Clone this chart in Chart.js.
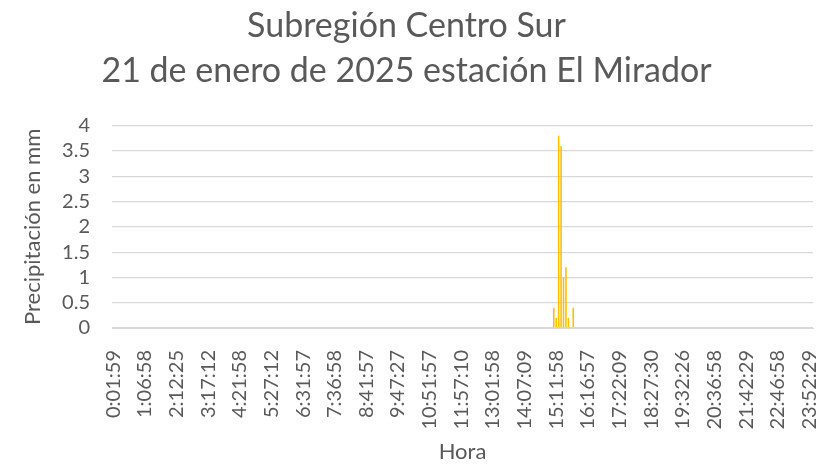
<!DOCTYPE html>
<html>
<head>
<meta charset="utf-8">
<script src="https://cdn.jsdelivr.net/npm/chart.js@4"></script>
<style>
  html, body { margin: 0; padding: 0; background: #fff; }
  #wrap { width: 823px; height: 465px; }
</style>
</head>
<body>
<div id="wrap"><canvas id="lluviaChart"></canvas></div>
<script>
// visible hour labels, one every 13 readings (5 min each)
const etiquetasHora = [
    '0:01:59', '1:06:58', '2:12:25', '3:17:12', '4:21:58', '5:27:12', '6:31:57', '7:36:58',
    '8:41:57', '9:47:27', '10:51:57', '11:57:10', '13:01:58', '14:07:09', '15:11:58', '16:16:57',
    '17:22:09', '18:27:30', '19:32:26', '20:36:58', '21:42:29', '22:46:58', '23:52:29'
]
const totalLecturas = 288
const pasoEtiqueta = 13
// the only readings with rain, starting at reading 181 (~15:07)
const lluviaInicio = 181
const lluviaValores = [0.4, 0.2, 3.8, 3.6, 1.0, 1.2, 0.2, 0, 0.4]
const yTicks = [0, 0.5, 1, 1.5, 2, 2.5, 3, 3.5, 4]

const horas = []
const precipitacion = []
for (let i = 0; i < totalLecturas; i++) {
    horas.push(i % pasoEtiqueta === 0 ? etiquetasHora[i / pasoEtiqueta] : '')
    const j = i - lluviaInicio
    precipitacion.push(j >= 0 && j < lluviaValores.length ? lluviaValores[j] : 0)
}

const gris = '#595959'
const fuente = 'Lato, "Open Sans", sans-serif'

new Chart(document.getElementById('lluviaChart').getContext('2d'), {
    type: 'bar',
    data: {
        labels: horas,
        datasets: [{
            data: precipitacion,
            backgroundColor: '#FFC000',
            barPercentage: 0.65,
            categoryPercentage: 1
        }]
    },
    options: {
        responsive: true,
        maintainAspectRatio: false,
        animation: false,
        locale: 'en-US',
        layout: { padding: { left: 0, right: 10, top: 0, bottom: 0 } },
        plugins: {
            legend: { display: false },
            tooltip: { enabled: false },
            title: {
                display: true,
                text: ['Subregión Centro Sur', '21 de enero de 2025 estación El Mirador'],
                color: gris,
                font: { family: fuente, size: 34, weight: 'normal', lineHeight: 1.32 },
                padding: { top: 4, bottom: 32 }
            }
        },
        scales: {
            x: {
                grid: { display: false },
                border: { display: true, color: '#d9d9d9' },
                ticks: {
                    autoSkip: false,
                    maxRotation: 90,
                    minRotation: 90,
                    padding: 14,
                    color: gris,
                    font: { family: fuente, size: 20 },
                    callback: (v, i) => i % pasoEtiqueta === 0 ? horas[i] : null
                },
                title: {
                    display: true,
                    text: 'Hora',
                    color: gris,
                    font: { family: fuente, size: 22 },
                    padding: { top: 0, bottom: 0 }
                },
                afterFit: (s) => {
                    s.height = 137
                    s.paddingLeft = 0
                    s.paddingRight = 0
                }
            },
            y: {
                min: 0,
                max: 4,
                afterBuildTicks: (s) => { s.ticks = yTicks.map(v => ({ value: v })) },
                grid: { color: '#d9d9d9', lineWidth: 1.3, drawTicks: false },
                border: { display: false },
                ticks: {
                    autoSkip: false,
                    padding: 22,
                    color: gris,
                    font: { family: fuente, size: 20 },
                    callback: (v) => String(v)
                },
                title: {
                    display: true,
                    text: 'Precipitación en mm',
                    color: gris,
                    font: { family: fuente, size: 22 },
                    padding: { top: 20, bottom: 0 }
                },
                afterFit: (s) => { s.width = 112 }
            }
        }
    }
})
</script>
</body>
</html>
